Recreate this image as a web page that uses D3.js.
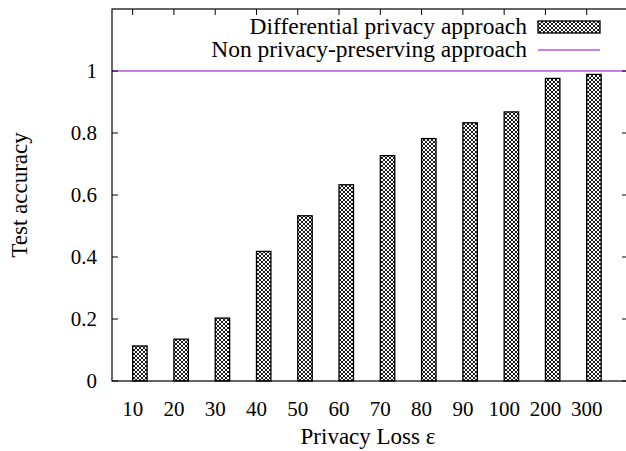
<!DOCTYPE html>
<html>
<head>
<meta charset="utf-8">
<script src="https://cdn.jsdelivr.net/npm/d3@7"></script>
<style>
  body { margin: 0; background: #fff; }
  svg text { font-family: "Liberation Serif", "Times New Roman", serif; fill: #000; }
</style>
</head>
<body>
<svg id="svg" width="626" height="451"></svg>
<script>
var categories = ["10", "20", "30", "40", "50", "60", "70", "80", "90", "100", "200", "300"];
var dpAccuracy = [0.113, 0.135, 0.203, 0.418, 0.533, 0.633, 0.727, 0.782, 0.833, 0.868, 0.976, 0.989];
var nonPrivateAccuracy = 1.0;
var yTicks = [0, 0.2, 0.4, 0.6, 0.8, 1];
var seriesNames = ["Differential privacy approach", "Non privacy-preserving approach"];

var svg = d3.select("svg"),
    width = +svg.attr("width"),
    height = +svg.attr("height");

var plotL = 112, plotR = 628, plotT = 9, plotB = 381;

var x = d3.scaleLinear().domain([-0.5, categories.length]).range([plotL, plotR]);
var y = d3.scaleLinear().domain([0, 1.2]).range([plotB, plotT]);

// crosshatch fill like gnuplot pattern
var defs = svg.append("defs");
var pat = defs.append("pattern")
    .attr("id", "hatch")
    .attr("patternUnits", "userSpaceOnUse")
    .attr("width", 4)
    .attr("height", 4);
pat.append("rect").attr("width", 4).attr("height", 4).attr("fill", "#fff");
pat.append("path")
    .attr("d", "M0,0L4,4M4,0L0,4")
    .attr("stroke", "#000")
    .attr("stroke-width", 0.9);

var barW = 0.35;

// bars
svg.selectAll(".bar")
    .data(dpAccuracy)
    .enter().append("rect")
    .attr("class", "bar")
    .attr("x", function (d, i) { return x(i); })
    .attr("y", function (d) { return y(d); })
    .attr("width", function (d, i) { return x(i + barW) - x(i); })
    .attr("height", function (d) { return y(0) - y(d); })
    .attr("fill", "url(#hatch)")
    .attr("stroke", "#000")
    .attr("stroke-width", 1.3);

// non-private reference line
svg.append("line")
    .attr("x1", plotL).attr("x2", plotR)
    .attr("y1", y(nonPrivateAccuracy)).attr("y2", y(nonPrivateAccuracy))
    .attr("stroke", "#9400d3")
    .attr("stroke-width", 1.2);

// frame
svg.append("rect")
    .attr("x", plotL).attr("y", plotT)
    .attr("width", plotR - plotL).attr("height", plotB - plotT)
    .attr("fill", "none")
    .attr("stroke", "#000")
    .attr("stroke-width", 1.2);

// y ticks (inward, both sides)
var tickLen = 6;
yTicks.forEach(function (t) {
    svg.append("line").attr("x1", plotL).attr("x2", plotL + tickLen)
        .attr("y1", y(t)).attr("y2", y(t)).attr("stroke", "#000");
    svg.append("line").attr("x1", plotR - tickLen).attr("x2", plotR)
        .attr("y1", y(t)).attr("y2", y(t)).attr("stroke", "#000");
    svg.append("text")
        .attr("x", 97).attr("y", y(t))
        .attr("dy", "0.35em")
        .attr("text-anchor", "end")
        .attr("font-size", "21px")
        .text(d3.format("~g")(t));
});

// x ticks (top)
categories.forEach(function (c, i) {
    svg.append("line").attr("x1", x(i)).attr("x2", x(i))
        .attr("y1", plotT).attr("y2", plotT + tickLen).attr("stroke", "#000");
    svg.append("text")
        .attr("x", x(i)).attr("y", 416)
        .attr("text-anchor", "middle")
        .attr("font-size", "21px")
        .text(c);
});

// axis titles
svg.append("text")
    .attr("transform", "translate(27,195) rotate(-90)")
    .attr("text-anchor", "middle")
    .attr("font-size", "23px")
    .text("Test accuracy");

svg.append("text")
    .attr("x", 368).attr("y", 444)
    .attr("text-anchor", "middle")
    .attr("font-size", "23px")
    .text("Privacy Loss ε");

// legend
var legend = svg.append("g");
legend.append("text")
    .attr("x", 527).attr("y", 34)
    .attr("text-anchor", "end")
    .attr("font-size", "23.5px")
    .text(seriesNames[0]);
legend.append("rect")
    .attr("x", 538).attr("y", 21)
    .attr("width", 62).attr("height", 12)
    .attr("fill", "url(#hatch)")
    .attr("stroke", "#000")
    .attr("stroke-width", 1.3);
legend.append("text")
    .attr("x", 527).attr("y", 57)
    .attr("text-anchor", "end")
    .attr("font-size", "23.5px")
    .text(seriesNames[1]);
legend.append("line")
    .attr("x1", 538).attr("x2", 600)
    .attr("y1", 50).attr("y2", 50)
    .attr("stroke", "#9400d3")
    .attr("stroke-width", 1.2);
</script>
</body>
</html>
